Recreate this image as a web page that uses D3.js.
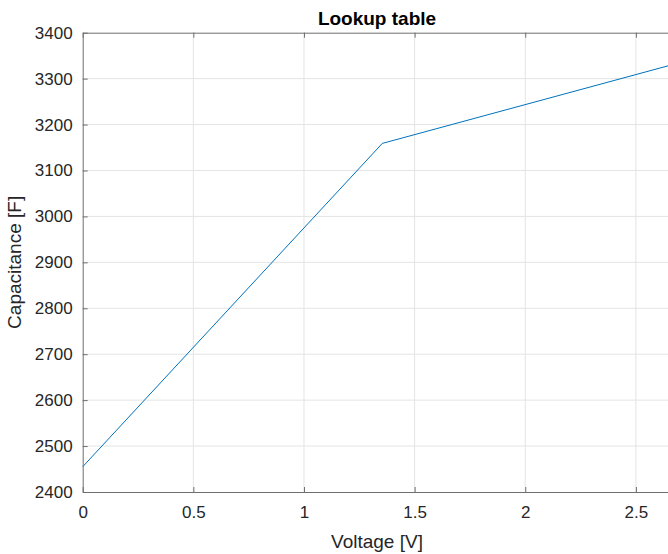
<!DOCTYPE html>
<html>
<head>
<meta charset="utf-8">
<script src="https://cdn.jsdelivr.net/npm/d3@7"></script>
<style>
    body { margin: 0; background: #fff; overflow: hidden; }
    svg { display: block; font-family: "Liberation Sans", Arial, sans-serif; }
</style>
</head>
<body>
<svg id="chart"></svg>
<script>
// lookup table points
const voltage = [0, 1.354, 2.7];
const capacitance = [2455, 3159, 3335];

const xTicks = [0, 0.5, 1, 1.5, 2, 2.5];
const yTicks = [2400, 2500, 2600, 2700, 2800, 2900, 3000, 3100, 3200, 3300, 3400];

const width = 668, height = 554;
const margin = {top: 32.7, left: 82.7, bottom: 62, right: -3.3};

const svg = d3.select("#chart")
    .attr("width", width)
    .attr("height", height);

const x = d3.scaleLinear()
    .domain([0, 2.66])
    .range([margin.left, width - margin.right]);
const y = d3.scaleLinear()
    .domain([2400, 3400])
    .range([height - margin.bottom, margin.top]);

const axisColor = "#6e6e6e";
const textColor = "#262626";

// grid
svg.append("g")
    .selectAll("line.vgrid")
    .data(xTicks.slice(1))
    .enter().append("line")
    .attr("x1", d => x(d)).attr("x2", d => x(d))
    .attr("y1", y(2400)).attr("y2", y(3400))
    .attr("stroke", "#e4e4e4");
svg.append("g")
    .selectAll("line.hgrid")
    .data(yTicks.slice(1, -1))
    .enter().append("line")
    .attr("x1", x.range()[0]).attr("x2", x.range()[1])
    .attr("y1", d => y(d)).attr("y2", d => y(d))
    .attr("stroke", "#e4e4e4");

// data line
const line = d3.line()
    .x((d, i) => x(voltage[i]))
    .y(d => y(d));
svg.append("path")
    .datum(capacitance)
    .attr("d", line)
    .attr("fill", "none")
    .attr("stroke", "#0072BD")
    .attr("stroke-width", 1);

// axes, MATLAB style: inward ticks, box on
const fmt = d => String(d);
const bottomAxis = svg.append("g")
    .attr("transform", `translate(0,${y(2400)})`)
    .call(d3.axisBottom(x).tickValues(xTicks).tickFormat(fmt).tickSizeInner(-5).tickSizeOuter(0).tickPadding(14));
const topAxis = svg.append("g")
    .attr("transform", `translate(0,${y(3400)})`)
    .call(d3.axisTop(x).tickValues(xTicks).tickFormat("").tickSizeInner(-5).tickSizeOuter(0));
const leftAxis = svg.append("g")
    .attr("transform", `translate(${x(0)},0)`)
    .call(d3.axisLeft(y).tickValues(yTicks).tickFormat(fmt).tickSizeInner(-5).tickSizeOuter(0).tickPadding(10));

[bottomAxis, topAxis, leftAxis].forEach(g => {
    g.select(".domain").attr("stroke", axisColor);
    g.selectAll(".tick line").attr("stroke", axisColor);
    g.selectAll(".tick text")
        .attr("fill", textColor)
        .style("font-size", "17px")
        .style("font-family", "Liberation Sans, Arial, sans-serif");
});

// labels
const midX = (x.range()[0] + x.range()[1]) / 2;
svg.append("text")
    .attr("x", midX)
    .attr("y", 25)
    .attr("text-anchor", "middle")
    .attr("font-weight", "bold")
    .attr("font-size", 19)
    .attr("fill", "#000")
    .text("Lookup table");

svg.append("text")
    .attr("x", midX)
    .attr("y", 548)
    .attr("text-anchor", "middle")
    .attr("font-size", 19)
    .attr("fill", textColor)
    .text("Voltage [V]");

svg.append("text")
    .attr("transform", `translate(21,${(y(2400) + y(3400)) / 2}) rotate(-90)`)
    .attr("text-anchor", "middle")
    .attr("font-size", 19)
    .attr("fill", textColor)
    .text("Capacitance [F]");
</script>
</body>
</html>
